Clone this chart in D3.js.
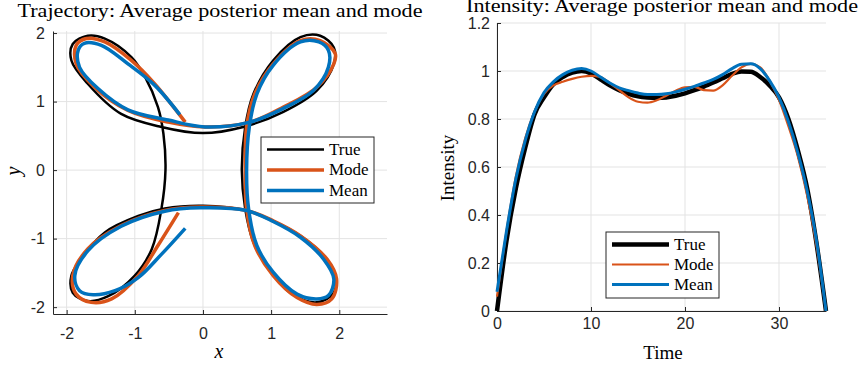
<!DOCTYPE html>
<html>
<head>
<meta charset="utf-8">
<script src="https://cdn.jsdelivr.net/npm/d3@7"></script>
<style>
  body { margin: 0; background: #fff; }
  svg { display: block; }
</style>
</head>
<body>
<div id="chart" style="width:862px;height:371px"></div>
<script>
// trajectory, true path (closed)
const trueX = [0, -0.61, -1.2, -1.69, -1.93, -1.91, -1.69, -1.44, -1.05, -0.85, -0.66, -0.58, -0.55,
  -0.61, -0.75, -1.0, -1.39, -1.69, -1.91, -1.93, -1.79, -1.44, -0.95, -0.56, 0,
  0.64, 1.03, 1.43, 1.77, 1.94, 1.92, 1.67, 1.28, 0.94, 0.74, 0.62, 0.57,
  0.62, 0.74, 1.03, 1.43, 1.72, 1.92, 1.92, 1.67, 1.18, 0.59]
const trueY = [0.54, 0.63, 0.82, 1.26, 1.6, 1.84, 1.96, 1.92, 1.65, 1.36, 0.92, 0.53, 0,
  -0.57, -1.15, -1.54, -1.84, -1.91, -1.79, -1.54, -1.3, -0.91, -0.67, -0.56, -0.52,
  -0.59, -0.74, -0.96, -1.25, -1.54, -1.79, -1.93, -1.79, -1.4, -1.05, -0.57, 0,
  0.63, 1.11, 1.6, 1.94, 1.96, 1.79, 1.55, 1.16, 0.85, 0.63]

// trajectory, posterior mode
const modeX = [-0.26, -0.71, -1.05, -1.44, -1.71, -1.86, -1.86, -1.59, -1.1, -0.51, 0.03,
  0.69, 1.18, 1.67, 1.92, 1.94, 1.72, 1.43, 1.03, 0.76, 0.64, 0.62,
  0.64, 0.76, 1.03, 1.38, 1.67, 1.89, 1.96, 1.82, 1.43, 1.03, 0.64, -0.04,
  -0.56, -1.2, -1.69, -1.91, -1.86, -1.64, -1.34, -0.95, -0.66, -0.36]
const modeY = [0.70, 1.26, 1.6, 1.87, 1.92, 1.82, 1.55, 1.21, 0.87, 0.70, 0.63,
  0.7, 0.92, 1.21, 1.55, 1.7, 1.89, 1.89, 1.55, 1.11, 0.63, 0,
  -0.57, -1.1, -1.54, -1.86, -1.96, -1.88, -1.59, -1.3, -0.96, -0.74, -0.59, -0.54,
  -0.59, -0.81, -1.15, -1.54, -1.81, -1.93, -1.88, -1.54, -1.1, -0.62]

// trajectory, posterior mean
const meanX = [-0.34, -0.71, -1.1, -1.49, -1.74, -1.83, -1.81, -1.54, -1.1, -0.51, 0.03,
  0.69, 1.18, 1.62, 1.84, 1.84, 1.7, 1.43, 1.03, 0.79, 0.68, 0.64,
  0.67, 0.79, 1.03, 1.38, 1.67, 1.84, 1.92, 1.77, 1.43, 1.03, 0.64, -0.04,
  -0.56, -1.2, -1.69, -1.88, -1.81, -1.61, -1.29, -0.95, -0.61, -0.26]
const meanY = [0.81, 1.24, 1.55, 1.82, 1.85, 1.75, 1.5, 1.19, 0.88, 0.73, 0.63,
  0.7, 0.9, 1.16, 1.5, 1.75, 1.87, 1.87, 1.53, 1.11, 0.63, 0,
  -0.57, -1.1, -1.49, -1.81, -1.88, -1.83, -1.59, -1.3, -0.98, -0.75, -0.59, -0.55,
  -0.6, -0.82, -1.18, -1.54, -1.76, -1.82, -1.76, -1.57, -1.23, -0.85]

// intensity over time
const time = [0, 1, 2, 3, 4, 5, 6, 7, 8, 9, 10, 11, 12, 13, 14, 15, 16, 17, 18,
  19, 20, 21, 22, 23, 24, 25, 26, 27, 28, 29, 30, 31, 32, 33, 34, 35]
const intensityTrue = [0, 0.29, 0.51, 0.68, 0.82, 0.89, 0.945, 0.975, 0.993, 1.0, 0.99, 0.965,
  0.94, 0.92, 0.905, 0.895, 0.89, 0.888, 0.89, 0.897, 0.907, 0.92, 0.935, 0.952, 0.97,
  0.988, 0.998, 0.997, 0.975, 0.94, 0.89, 0.8, 0.67, 0.51, 0.28, 0]
const intensityMode = [0.06, 0.33, 0.56, 0.72, 0.83, 0.905, 0.94, 0.955, 0.967, 0.976, 0.98, 0.975,
  0.95, 0.92, 0.89, 0.872, 0.868, 0.878, 0.897, 0.918, 0.932, 0.934, 0.92, 0.918, 0.94,
  0.98, 1.015, 1.03, 1.015, 0.96, 0.88, 0.77, 0.645, 0.48, 0.27, 0]
const intensityMean = [0.08, 0.33, 0.55, 0.71, 0.83, 0.91, 0.955, 0.985, 1.003, 1.01, 1.0, 0.975,
  0.95, 0.93, 0.918, 0.908, 0.902, 0.902, 0.905, 0.913, 0.924, 0.936, 0.95, 0.965, 0.985,
  1.01, 1.028, 1.03, 1.01, 0.96, 0.89, 0.79, 0.66, 0.5, 0.29, 0]

const xTicksTraj = [-2, -1, 0, 1, 2]
const yTicksTraj = [-2, -1, 0, 1, 2]
const xTicksTime = [0, 10, 20, 30]
const yTicksInt = [0, 0.2, 0.4, 0.6, 0.8, 1, 1.2]
const legendNames = ["True", "Mode", "Mean"]

const colors = { True: "#000000", Mode: "#D95319", Mean: "#0072BD" }
const axisColor = "#262626"
const gridColor = "#e3e3e3"
const serif = "'Liberation Serif', 'Times New Roman', serif"
const sans = "'Liberation Sans', Arial, Helvetica, sans-serif"

const svg = d3.select("#chart").append("svg").attr("width", 862).attr("height", 371)

// 通用：网格 + 坐标轴
function drawFrame(g, x, y, xTicks, yTicks, xPad, yPad) {
  const [x0, x1] = x.range()
  const [y0, y1] = y.range()
  const grid = g.append("g")
  grid.selectAll("line.gx").data(xTicks).enter().append("line")
    .attr("x1", d => x(d)).attr("x2", d => x(d)).attr("y1", y0).attr("y2", y1)
    .attr("stroke", gridColor).attr("stroke-width", 1)
  grid.selectAll("line.gy").data(yTicks).enter().append("line")
    .attr("x1", x0).attr("x2", x1).attr("y1", d => y(d)).attr("y2", d => y(d))
    .attr("stroke", gridColor).attr("stroke-width", 1)

  const fmt = d => String(d).replace("−", "-")
  const ax = g.append("g").attr("transform", `translate(0,${y0})`)
    .call(d3.axisBottom(x).tickValues(xTicks).tickFormat(fmt).tickSizeInner(-4).tickSizeOuter(0).tickPadding(xPad))
  const ay = g.append("g").attr("transform", `translate(${x0},0)`)
    .call(d3.axisLeft(y).tickValues(yTicks).tickFormat(fmt).tickSizeInner(-4).tickSizeOuter(0).tickPadding(yPad))
  for (const a of [ax, ay]) {
    a.selectAll("path").attr("stroke", axisColor).attr("stroke-width", 1)
    a.selectAll("line").attr("stroke", axisColor)
    a.selectAll("text").attr("fill", axisColor).style("font-family", sans).style("font-size", "16px")
  }
}

function drawLegend(g, x, y, w, h, rowGap, widths) {
  const lg = g.append("g").attr("transform", `translate(${x},${y})`)
  lg.append("rect").attr("width", w).attr("height", h).attr("fill", "#fff")
    .attr("stroke", axisColor).attr("stroke-width", 1)
  legendNames.forEach((name, i) => {
    const cy = 12.5 + i * rowGap
    lg.append("line").attr("x1", 6).attr("x2", 63).attr("y1", cy).attr("y2", cy)
      .attr("stroke", colors[name]).attr("stroke-width", widths[i])
    lg.append("text").attr("x", 68).attr("y", cy + 5).text(name)
      .style("font-family", serif).style("font-size", "17px").attr("fill", "#000")
  })
}

// ---------- 左图：轨迹 ----------
const xT = d3.scaleLinear().domain([-2.2, 2.7]).range([53, 387])
const yT = d3.scaleLinear().domain([-2.1, 2.03]).range([314, 31])
const left = svg.append("g")
drawFrame(left, xT, yT, xTicksTraj, yTicksTraj, 14, 8)

const trajLine = d3.line().x(d => xT(d[0])).y(d => yT(d[1])).curve(d3.curveCatmullRom.alpha(0.5))
const trajLineClosed = d3.line().x(d => xT(d[0])).y(d => yT(d[1])).curve(d3.curveCatmullRomClosed.alpha(0.5))
const paths = left.append("g").attr("fill", "none").attr("stroke-linejoin", "round")
paths.append("path").attr("d", trajLineClosed(d3.zip(trueX, trueY)))
  .attr("stroke", colors.True).attr("stroke-width", 2.5)
paths.append("path").attr("d", trajLine(d3.zip(modeX, modeY)))
  .attr("stroke", colors.Mode).attr("stroke-width", 3.5)
paths.append("path").attr("d", trajLine(d3.zip(meanX, meanY)))
  .attr("stroke", colors.Mean).attr("stroke-width", 3.5)

drawLegend(left, 261, 137, 113, 66, 20.5, [2.5, 3.5, 3.5])

left.append("text").attr("x", 220).attr("y", 17).attr("text-anchor", "middle")
  .attr("textLength", 405).attr("lengthAdjust", "spacingAndGlyphs")
  .style("font-family", serif).style("font-size", "19px")
  .text("Trajectory: Average posterior mean and mode")
left.append("text").attr("x", 219).attr("y", 358).attr("text-anchor", "middle")
  .style("font-family", serif).style("font-size", "20px").style("font-style", "italic").text("x")
left.append("text").attr("transform", "translate(20,171) rotate(-90)").attr("text-anchor", "middle")
  .style("font-family", serif).style("font-size", "20px").style("font-style", "italic").text("y")

// ---------- 右图：强度 ----------
const xI = d3.scaleLinear().domain([0, 35]).range([497, 826])
const yI = d3.scaleLinear().domain([0, 1.2]).range([311, 23])
const right = svg.append("g")
drawFrame(right, xI, yI, xTicksTime, yTicksInt, 7, 7)

const intLine = d3.line().x((d, i) => xI(time[i])).y(d => yI(d)).curve(d3.curveMonotoneX)
const ipaths = right.append("g").attr("fill", "none").attr("stroke-linejoin", "round")
ipaths.append("path").attr("d", intLine(intensityTrue)).attr("stroke", colors.True).attr("stroke-width", 4.5)
ipaths.append("path").attr("d", intLine(intensityMode)).attr("stroke", colors.Mode).attr("stroke-width", 2.2)
ipaths.append("path").attr("d", intLine(intensityMean)).attr("stroke", colors.Mean).attr("stroke-width", 3)

drawLegend(right, 606, 232, 113, 66, 20, [4.5, 2.2, 3])

right.append("text").attr("x", 662).attr("y", 12).attr("text-anchor", "middle")
  .attr("textLength", 392).attr("lengthAdjust", "spacingAndGlyphs")
  .style("font-family", serif).style("font-size", "18px")
  .text("Intensity: Average posterior mean and mode")
right.append("text").attr("x", 663).attr("y", 359).attr("text-anchor", "middle")
  .style("font-family", serif).style("font-size", "19px").text("Time")
right.append("text").attr("transform", "translate(454,168) rotate(-90)").attr("text-anchor", "middle")
  .style("font-family", serif).style("font-size", "19px").text("Intensity")
</script>
</body>
</html>
